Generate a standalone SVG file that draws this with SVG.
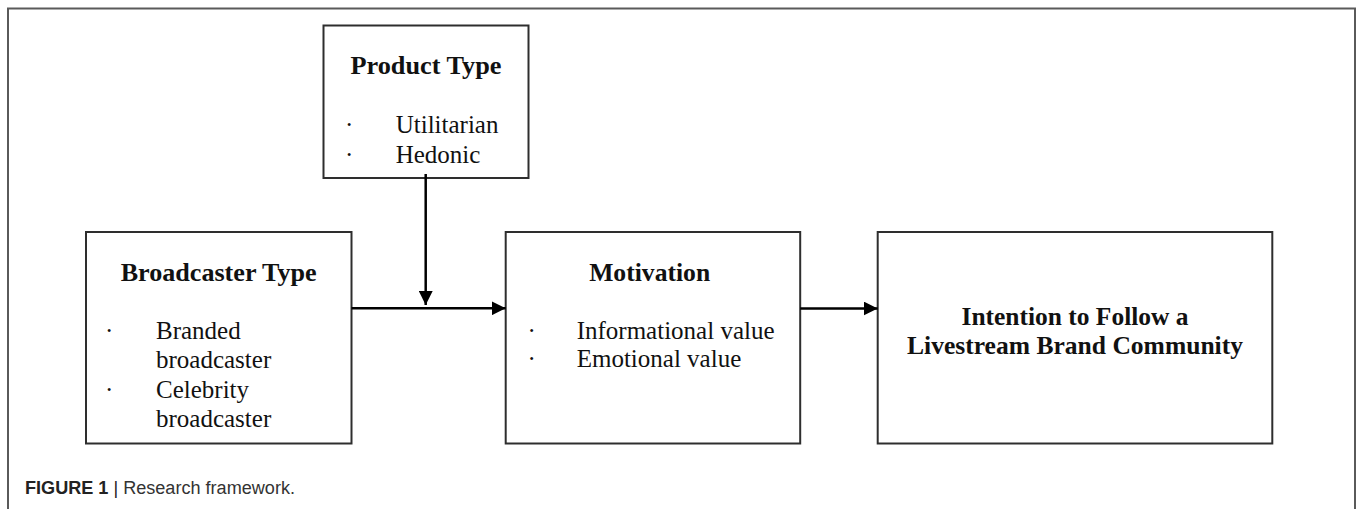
<svg xmlns="http://www.w3.org/2000/svg" width="1357" height="509" viewBox="0 0 1357 509">
<style>
.box{fill:#fff;stroke:#2e2e2e;stroke-width:2}
.title{font-family:"Liberation Serif","Times New Roman",serif;font-weight:bold;font-size:25px;fill:#111}
.item{font-family:"Liberation Serif","Times New Roman",serif;font-size:25px;fill:#111}
.conn{stroke:#000;stroke-width:2.5;fill:none}
.cap{font-family:"Liberation Sans",Arial,sans-serif;font-size:18px;fill:#333}
</style>
<defs>
<marker id="ah" markerUnits="userSpaceOnUse" markerWidth="15" markerHeight="14" refX="14" refY="7" orient="auto">
<path d="M0,0 L14,7 L0,14 Z" fill="#000"/>
</marker>
</defs>
<rect x="0" y="0" width="1357" height="509" fill="#fff"/>
<path d="M8,515 L8,8.5 L1355,8.5 L1355,515" fill="none" stroke="#5a5a5a" stroke-width="2"/>

<g id="product-type">
<rect class="box" x="323.5" y="25.5" width="205" height="152.5"/>
<text class="title" x="426" y="74" text-anchor="middle" textLength="151" lengthAdjust="spacingAndGlyphs">Product Type</text>
<text class="item" x="345" y="133">·</text>
<text class="item" x="395.7" y="133">Utilitarian</text>
<text class="item" x="345" y="163">·</text>
<text class="item" x="395.7" y="163">Hedonic</text>
</g>

<g id="broadcaster-type">
<rect class="box" x="86" y="232" width="265.5" height="211.5"/>
<text class="title" x="218.7" y="281" text-anchor="middle" textLength="196" lengthAdjust="spacingAndGlyphs">Broadcaster Type</text>
<text class="item" x="105" y="339">·</text>
<text class="item" x="156" y="339">Branded</text>
<text class="item" x="156" y="368">broadcaster</text>
<text class="item" x="105" y="397.5">·</text>
<text class="item" x="156" y="397.5">Celebrity</text>
<text class="item" x="156" y="427">broadcaster</text>
</g>

<g id="motivation">
<rect class="box" x="505.7" y="232" width="294.5" height="211.5"/>
<text class="title" x="649.7" y="281" text-anchor="middle" textLength="121" lengthAdjust="spacingAndGlyphs">Motivation</text>
<text class="item" x="527.5" y="339">·</text>
<text class="item" x="576.7" y="339">Informational value</text>
<text class="item" x="527.5" y="367.3">·</text>
<text class="item" x="576.7" y="367.3">Emotional value</text>
</g>

<g id="intention">
<rect class="box" x="877.7" y="232" width="394.6" height="211.5"/>
<text class="title" x="1075" y="325" text-anchor="middle" textLength="227" lengthAdjust="spacingAndGlyphs">Intention to Follow a</text>
<text class="title" x="1075" y="354.3" text-anchor="middle" textLength="336" lengthAdjust="spacingAndGlyphs">Livestream Brand Community</text>
</g>

<g id="connectors">
<line class="conn" x1="351.5" y1="308.3" x2="505.7" y2="308.3" marker-end="url(#ah)"/>
<line class="conn" x1="425.7" y1="174" x2="425.7" y2="305" stroke-width="2" marker-end="url(#ah)"/>
<line class="conn" x1="800.2" y1="308.5" x2="877.7" y2="308.5" marker-end="url(#ah)"/>
</g>

<text class="cap" x="25" y="494" textLength="270" lengthAdjust="spacingAndGlyphs"><tspan font-weight="bold" fill="#222">FIGURE 1</tspan> <tspan fill="#222">|</tspan> Research framework.</text>
</svg>
